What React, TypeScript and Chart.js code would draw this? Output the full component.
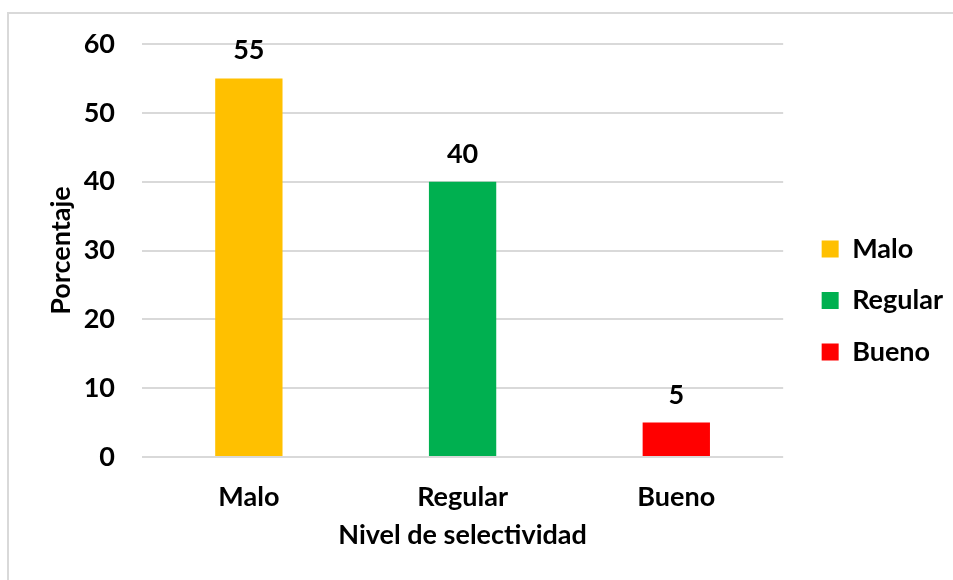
import React, { useEffect, useRef } from "react";
import { Chart, registerables } from "chart.js";

Chart.register(...registerables);

const categories = ["Malo", "Regular", "Bueno"];
const values = [55, 40, 5];
const colors = ["#FFC000", "#00B050", "#FF0000"];
const yTicks = [0, 10, 20, 30, 40, 50, 60];
const yTitle = "Porcentaje";
const xTitle = "Nivel de selectividad";

const FONT = "Lato, 'Open Sans', sans-serif";
const FS = 27;

const valueLabels = {
  id: "valueLabels",
  afterDatasetsDraw(chart: any) {
    const ctx = chart.ctx;
    const meta = chart.getDatasetMeta(0);
    ctx.save();
    ctx.font = `bold ${FS}px ${FONT}`;
    ctx.fillStyle = "#000";
    ctx.textAlign = "center";
    ctx.textBaseline = "alphabetic";
    meta.data.forEach((bar: any, i: number) => {
      ctx.fillText(String(values[i]), bar.x, bar.y - 19);
    });
    ctx.restore();
  },
};

export default function App() {
  const ref = useRef<HTMLCanvasElement | null>(null);
  useEffect(() => {
    if (!ref.current) return;
    const chart = new Chart(ref.current, {
      type: "bar",
      data: {
        labels: categories,
        datasets: [
          {
            data: values,
            backgroundColor: colors,
            borderWidth: 0,
            categoryPercentage: 1,
            barPercentage: 0.315,
          },
        ],
      },
      options: {
        animation: false,
        responsive: false,
        layout: { padding: { left: 0, top: 44, right: 0, bottom: 23 } },
        plugins: {
          tooltip: { enabled: false },
          legend: {
            position: "right",
            labels: {
              boxWidth: 17,
              boxHeight: 17,
              padding: 24.5,
              color: "#000",
              font: { family: FONT, size: FS, weight: "bold" },
              generateLabels: () =>
                categories.map((c, i) => ({
                  text: c,
                  fillStyle: colors[i],
                  strokeStyle: colors[i],
                  lineWidth: 0,
                  hidden: false,
                  index: i,
                  datasetIndex: 0,
                })),
            },
          },
        },
        scales: {
          x: {
            afterFit: (s: any) => {
              s.height = 100;
              s.paddingLeft = 0;
              s.paddingRight = 0;
            },
            grid: { display: false, drawTicks: false },
            border: { display: false },
            ticks: {
              color: "#000",
              padding: 24,
              font: { family: FONT, size: FS, weight: "bold" },
            },
            title: {
              display: true,
              text: xTitle,
              color: "#000",
              padding: { top: 4, bottom: 6 },
              font: { family: FONT, size: FS, weight: "bold" },
            },
          },
          y: {
            min: 0,
            max: 60,
            afterBuildTicks: (s: any) => {
              s.ticks = yTicks.map((v) => ({ value: v }));
            },
            afterFit: (s: any) => {
              s.width = 142;
              s.paddingTop = 0;
              s.paddingBottom = 0;
            },
            grid: { color: "#D9D9D9", lineWidth: 2, drawTicks: false },
            border: { display: false },
            ticks: {
              color: "#000",
              padding: 27,
              font: { family: FONT, size: FS, weight: "bold" },
            },
            title: {
              display: true,
              text: yTitle,
              color: "#000",
              padding: { top: 45, bottom: 0 },
              font: { family: FONT, size: FS, weight: "bold" },
            },
          },
          gap: {
            type: "linear",
            position: "right",
            display: true,
            afterFit: (s: any) => {
              s.width = 14;
            },
            grid: { display: false, drawTicks: false },
            border: { display: false },
            ticks: { display: false },
          },
        },
      },
      plugins: [valueLabels],
    });
    return () => chart.destroy();
  }, []);

  return (
    <div style={{ position: "fixed", left: 0, top: 0, width: 953, height: 580, background: "#fff", overflow: "hidden" }}>
      <div
        style={{
          position: "absolute",
          left: 7,
          top: 12,
          width: 960,
          height: 600,
          border: "2px solid #D9D9D9",
          boxSizing: "border-box",
        }}
      />
      <canvas ref={ref} width={953} height={580} style={{ position: "absolute", left: 0, top: 0, width: 953, height: 580 }} />
    </div>
  );
}
